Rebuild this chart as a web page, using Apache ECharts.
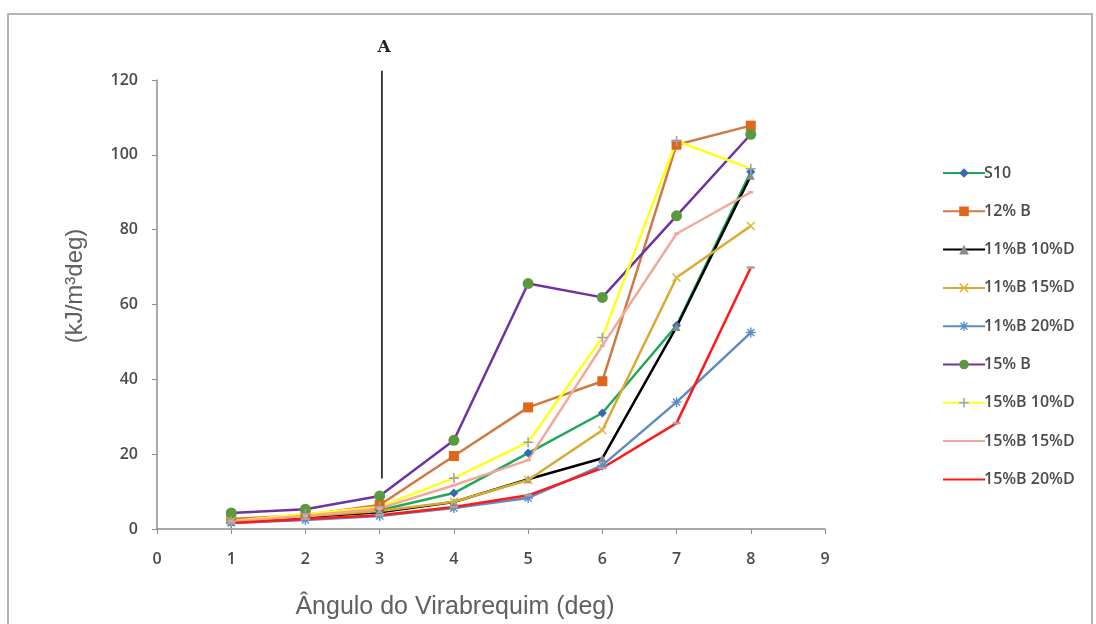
<!DOCTYPE html>
<html>
<head>
<meta charset="utf-8">
<script src="https://cdn.jsdelivr.net/npm/echarts@6/dist/echarts.min.js"></script>
<style>
  html, body { margin: 0; padding: 0; background: #fff; }
  #chart { width: 1096px; height: 624px; }
</style>
</head>
<body>
<div id="chart"></div>
<script>
// Crank angle positions (deg)
const angles = [1, 2, 3, 4, 5, 6, 7, 8];

// Heat release rate per blend (kJ/m³deg)
const s10      = [2.4, 3.5, 5.0, 9.6, 20.3, 31.0, 54.4, 95.5];
const b12      = [2.7, 3.7, 6.4, 19.5, 32.5, 39.5, 102.7, 107.8];
const b11d10   = [1.9, 3.2, 4.5, 7.2, 13.3, 18.9, 54.0, 94.4];
const b11d15   = [2.1, 3.4, 4.8, 7.3, 13.1, 26.4, 67.2, 81.0];
const b11d20   = [1.6, 2.4, 3.5, 5.6, 8.3, 17.0, 33.9, 52.5];
const b15      = [4.3, 5.3, 8.8, 23.7, 65.6, 61.9, 83.7, 105.5];
const b15d10   = [2.1, 4.0, 5.9, 13.6, 23.2, 51.2, 103.7, 96.3];
const b15d15   = [2.0, 3.5, 5.5, 11.7, 18.4, 49.0, 78.9, 90.0];
const b15d20   = [1.6, 2.7, 3.7, 5.9, 9.0, 16.3, 28.3, 69.9];

// Reference line "A"
const markA = { x: 3.03, from: 13.5, to: 122.5, label: 'A' };

const names = ['S10', '12% B', '11%B 10%D', '11%B 15%D', '11%B 20%D', '15% B', '15%B 10%D', '15%B 15%D', '15%B 20%D'];

const xPath = 'path://M0,1.2L1.2,0L5,3.8L8.8,0L10,1.2L6.2,5L10,8.8L8.8,10L5,6.2L1.2,10L0,8.8L3.8,5Z';
const plusPath = 'path://M4.2,0H5.8V4.2H10V5.8H5.8V10H4.2V5.8H0V4.2H4.2Z';
const starPath = 'path://M4.3,0H5.7V3.3L8.1,0.9L9.1,1.9L6.7,4.3H10V5.7H6.7L9.1,8.1L8.1,9.1L5.7,6.7V10H4.3V6.7L1.9,9.1L0.9,8.1L3.3,5.7H0V4.3H3.3L0.9,1.9L1.9,0.9L4.3,3.3Z';

function pairs(vals) { return angles.map((a, i) => [a, vals[i]]); }

function mk(name, vals, color, symbol, symbolSize, symColor) {
  return {
    name: name,
    type: 'line',
    data: pairs(vals),
    symbol: symbol,
    symbolSize: symbolSize,
    lineStyle: { color: color, width: 2.5 },
    itemStyle: { color: symColor || color },
    color: color,
    z: 3
  };
}

const series = [
  mk(names[0], s10,    '#1fa85a', 'diamond', 9, '#3a68b0'),
  mk(names[1], b12,    '#cf7a45', 'rect', 10, '#e0661c'),
  mk(names[2], b11d10, '#000000', 'triangle', 8, '#8a8a8a'),
  mk(names[3], b11d15, '#d8aa30', xPath, 9, '#e0b840'),
  mk(names[4], b11d20, '#5b8cc2', starPath, 10, '#5b8cc2'),
  mk(names[5], b15,    '#7032a0', 'circle', 11, '#5b9a3c'),
  mk(names[6], b15d10, '#ffff1a', plusPath, 10, '#9aa4b4'),
  mk(names[7], b15d15, '#f2a898', 'rect', [5, 2.5], '#f2a898'),
  mk(names[8], b15d20, '#ff1a1a', 'rect', [8, 2.5], '#b0a0a0'),
  {
    name: 'A',
    type: 'line',
    data: [[markA.x, markA.from], [markA.x, markA.to]],
    symbol: 'none',
    clip: false,
    silent: true,
    lineStyle: { color: '#303030', width: 1.8 },
    z: 2
  }
];

// Legend entries; the two marker-less series show only their line
const legendData = names.map((n, i) => (i >= 7 ? { name: n, itemStyle: { opacity: 0 } } : { name: n }));

const labelFont = { fontSize: 16, fontWeight: 600, color: '#4a4a4a', fontFamily: 'Open Sans, sans-serif' };

const chart = echarts.init(document.getElementById('chart'));
chart.setOption({
  animation: false,
  backgroundColor: '#ffffff',
  grid: { left: 157, right: 271, top: 80, bottom: 95 },
  graphic: [
    {
      type: 'rect',
      shape: { x: 8, y: 14, width: 1084, height: 640 },
      style: { fill: 'none', stroke: '#b4b4b4', lineWidth: 2 },
      silent: true
    },
    {
      type: 'text',
      x: 384, y: 48,
      style: { text: markA.label, font: 'bold 17px "DejaVu Serif", "Liberation Serif", serif', fill: '#222', align: 'center', verticalAlign: 'middle' }
    },
    {
      type: 'text',
      x: 75, y: 286,
      rotation: Math.PI / 2,
      style: { text: '(kJ/m³deg)', font: '24px "Liberation Sans", Arial, sans-serif', fill: '#606060', align: 'center', verticalAlign: 'middle' }
    },
    {
      type: 'text',
      x: 455, y: 607,
      style: { text: 'Ângulo do Virabrequim (deg)', font: '25px "Liberation Sans", Arial, sans-serif', fill: '#606060', align: 'center', verticalAlign: 'middle' }
    }
  ],
  xAxis: {
    type: 'value',
    min: 0, max: 9, interval: 1,
    axisLine: { lineStyle: { color: '#8c8c8c', width: 1.5 } },
    axisTick: { show: true, inside: false, length: 5, lineStyle: { color: '#8c8c8c' } },
    axisLabel: Object.assign({ margin: 22 }, labelFont),
    splitLine: { show: false }
  },
  yAxis: {
    type: 'value',
    min: 0, max: 120, interval: 20,
    axisLine: { show: true, lineStyle: { color: '#8c8c8c', width: 1.5 } },
    axisTick: { show: true, inside: false, length: 5, lineStyle: { color: '#8c8c8c' } },
    axisLabel: Object.assign({ margin: 19 }, labelFont),
    splitLine: { show: false }
  },
  legend: {
    orient: 'vertical',
    left: 937,
    top: 158,
    data: legendData,
    itemWidth: 42,
    itemHeight: 12,
    itemGap: 18.3,
    textStyle: { fontSize: 16, fontWeight: 600, color: '#4a4a4a', lineHeight: 20, fontFamily: 'Open Sans, sans-serif', padding: [0, 0, 0, -6] }
  },
  series: series
});
</script>
</body>
</html>
